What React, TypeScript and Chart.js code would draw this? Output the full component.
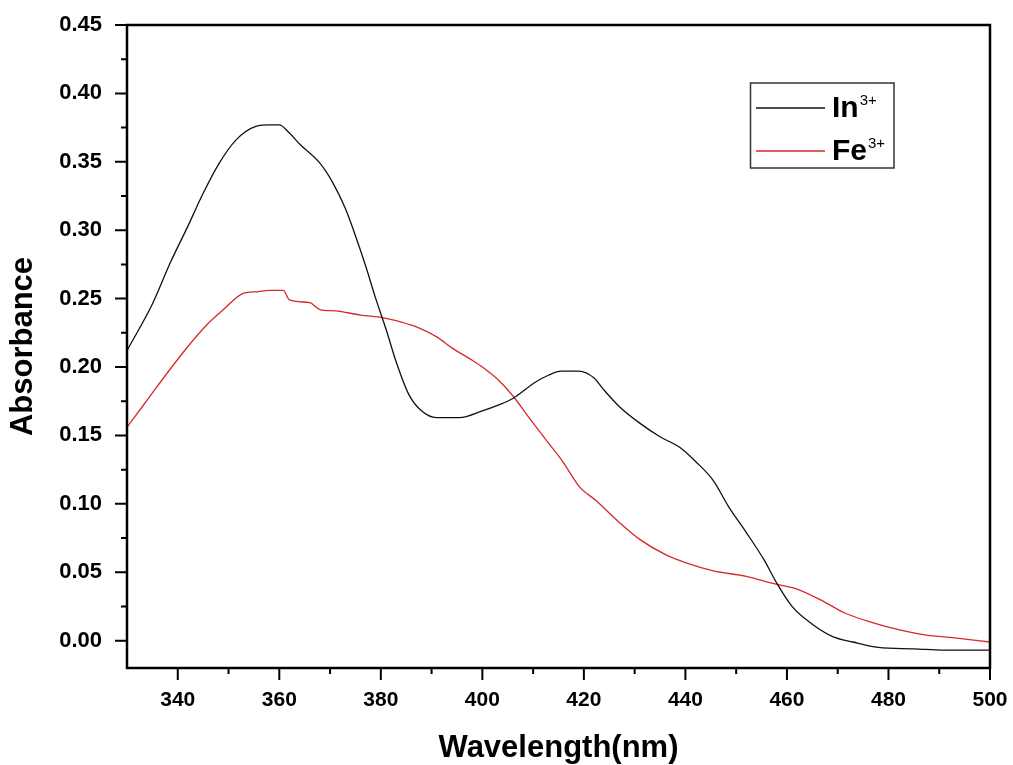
import React, { useEffect, useRef } from 'react';
import { Chart, registerables } from 'chart.js';

Chart.register(...registerables);

// ---- Data ----
const inWavelength = [
  330, 335, 338.5, 342, 345, 348, 351.5, 355.5, 358, 360, 362, 364, 368, 370.5, 373, 375, 377, 379, 381, 383,
  385.5, 388, 391, 395.5, 400, 403, 406, 410.5, 413, 415.5, 419, 422, 424, 427, 431, 435, 439, 442, 445.5, 448.5,
  452, 455.5, 458, 461, 465, 469, 473, 478, 485, 491, 500,
];
const inAbsorbance = [
  0.212, 0.246, 0.276, 0.303, 0.327, 0.348, 0.366, 0.376, 0.377, 0.377, 0.371, 0.363, 0.349, 0.335, 0.316, 0.296,
  0.274, 0.25, 0.228, 0.204, 0.18, 0.168, 0.163, 0.163, 0.168, 0.172, 0.177, 0.189, 0.194, 0.197, 0.197, 0.192,
  0.183, 0.171, 0.159, 0.149, 0.141, 0.131, 0.117, 0.098, 0.079, 0.059, 0.042, 0.025, 0.012, 0.003, -0.001,
  -0.005, -0.006, -0.007, -0.007,
];
const feWavelength = [
  330, 334, 338, 342, 345.5, 349, 353, 355.5, 358, 360.8, 362, 366, 368, 371, 376, 380.5, 383, 386.5, 391, 394,
  398, 400, 403, 406, 409, 412.5, 416, 419, 422.5, 426.5, 431, 436, 440, 445.5, 452, 457, 462.5, 467.5, 471.5,
  477, 482, 487.5, 493, 500,
];
const feAbsorbance = [
  0.156, 0.176, 0.196, 0.215, 0.23, 0.242, 0.254, 0.255, 0.256, 0.256, 0.249, 0.247, 0.242, 0.241, 0.238, 0.236,
  0.234, 0.23, 0.222, 0.214, 0.205, 0.2, 0.191, 0.179, 0.164, 0.147, 0.13, 0.113, 0.102, 0.088, 0.074, 0.063,
  0.057, 0.051, 0.047, 0.042, 0.037, 0.028, 0.02, 0.013, 0.008, 0.004, 0.002, -0.001,
];

const seriesNames = ['In', 'Fe'];
const seriesCharges = ['3+', '3+'];
const seriesColors = ['#111111', '#d42a2a'];

const xMin = 330;
const xMax = 500;
const yMin = -0.02;
const yMax = 0.45;
const xTickValues = [340, 360, 380, 400, 420, 440, 460, 480, 500];
const xMinorValues = [350, 370, 390, 410, 430, 450, 470, 490];
const yTickValues = [0, 0.05, 0.1, 0.15, 0.2, 0.25, 0.3, 0.35, 0.4, 0.45];
const yMinorValues = [0.025, 0.075, 0.125, 0.175, 0.225, 0.275, 0.325, 0.375, 0.425];
const xTitle = 'Wavelength(nm)';
const yTitle = 'Absorbance';

const FONT = '"Liberation Sans", Arial, Helvetica, sans-serif';

const framePlugin = {
  id: 'originFrame',
  afterDraw(chart: any) {
    const { ctx, chartArea } = chart;
    const xs = chart.scales.x;
    const ys = chart.scales.y;
    const { left, right, top, bottom } = chartArea;
    ctx.save();
    ctx.strokeStyle = '#000';
    // ticks (outward)
    ctx.lineWidth = 2;
    ctx.beginPath();
    xTickValues.forEach((v) => {
      const px = xs.getPixelForValue(v);
      ctx.moveTo(px, bottom);
      ctx.lineTo(px, bottom + 12);
    });
    xMinorValues.forEach((v) => {
      const px = xs.getPixelForValue(v);
      ctx.moveTo(px, bottom);
      ctx.lineTo(px, bottom + 6);
    });
    yTickValues.forEach((v) => {
      const py = ys.getPixelForValue(v);
      ctx.moveTo(left, py);
      ctx.lineTo(left - 12, py);
    });
    yMinorValues.forEach((v) => {
      const py = ys.getPixelForValue(v);
      ctx.moveTo(left, py);
      ctx.lineTo(left - 6, py);
    });
    ctx.stroke();
    // frame
    ctx.lineWidth = 2.5;
    ctx.strokeRect(left, top, right - left, bottom - top);

    // legend
    const boxL = 750.5;
    const boxT = 83;
    const boxW = 143.5;
    const boxH = 85;
    ctx.lineWidth = 1.5;
    ctx.strokeStyle = '#333';
    ctx.strokeRect(boxL, boxT, boxW, boxH);
    const rowY = [108, 151];
    const baseY = [117, 160];
    seriesNames.forEach((name, i) => {
      ctx.strokeStyle = seriesColors[i];
      ctx.lineWidth = 1.3;
      ctx.beginPath();
      ctx.moveTo(756, rowY[i]);
      ctx.lineTo(825, rowY[i]);
      ctx.stroke();
      ctx.fillStyle = '#000';
      ctx.textBaseline = 'alphabetic';
      ctx.textAlign = 'left';
      ctx.font = `bold 30px ${FONT}`;
      ctx.fillText(name, 832, baseY[i]);
      const w = ctx.measureText(name).width;
      ctx.font = `15px ${FONT}`;
      ctx.fillText(seriesCharges[i], 832 + w + 1, baseY[i] - 12);
    });
    ctx.restore();
  },
};

export default function App() {
  const canvasRef = useRef<HTMLCanvasElement | null>(null);

  useEffect(() => {
    document.body.style.margin = '0';
    const canvas = canvasRef.current;
    if (!canvas) return;
    const chart = new Chart(canvas, {
      type: 'line',
      data: {
        datasets: [
          {
            label: seriesNames[0] + seriesCharges[0],
            data: inWavelength.map((x, i) => ({ x, y: inAbsorbance[i] })),
            borderColor: seriesColors[0],
            borderWidth: 1.3,
            pointRadius: 0,
            cubicInterpolationMode: 'monotone',
          },
          {
            label: seriesNames[1] + seriesCharges[1],
            data: feWavelength.map((x, i) => ({ x, y: feAbsorbance[i] })),
            borderColor: seriesColors[1],
            borderWidth: 1.3,
            pointRadius: 0,
            cubicInterpolationMode: 'monotone',
          },
        ],
      },
      options: {
        animation: false,
        responsive: false,
        maintainAspectRatio: false,
        layout: { padding: { left: 0, top: 25, right: 23, bottom: 0 } },
        plugins: { legend: { display: false }, tooltip: { enabled: false } },
        scales: {
          x: {
            type: 'linear',
            min: xMin,
            max: xMax,
            afterBuildTicks: (s: any) => {
              s.ticks = xTickValues.map((v) => ({ value: v }));
            },
            afterFit: (s: any) => {
              s.height = 97;
              s.paddingLeft = 0;
              s.paddingRight = 0;
            },
            grid: { display: false, drawTicks: false },
            border: { display: false },
            ticks: {
              autoSkip: false,
              maxRotation: 0,
              padding: 20,
              color: '#000',
              font: { family: FONT, size: 21, weight: 'bold' },
              callback: (v: any) => String(v),
            },
            title: {
              display: true,
              text: xTitle,
              color: '#000',
              font: { family: FONT, size: 31, weight: 'bold', lineHeight: 1.05 },
              padding: { top: 0, bottom: 0 },
            },
          },
          y: {
            type: 'linear',
            min: yMin,
            max: yMax,
            afterBuildTicks: (s: any) => {
              s.ticks = yTickValues.map((v) => ({ value: v }));
            },
            afterFit: (s: any) => {
              s.width = 127;
              s.paddingTop = 0;
              s.paddingBottom = 0;
            },
            grid: { display: false, drawTicks: false },
            border: { display: false },
            ticks: {
              autoSkip: false,
              padding: 25,
              color: '#000',
              font: { family: FONT, size: 22, weight: 'bold' },
              callback: (v: any) => Number(v).toFixed(2),
            },
            title: {
              display: true,
              text: yTitle,
              color: '#000',
              font: { family: FONT, size: 31, weight: 'bold', lineHeight: 1.05 },
              padding: { top: 7, bottom: 0 },
            },
          },
        },
      },
      plugins: [framePlugin],
    } as any);
    return () => chart.destroy();
  }, []);

  return (
    <div style={{ position: 'absolute', left: 0, top: 0, width: 1013, height: 765, background: '#fff' }}>
      <canvas ref={canvasRef} width={1013} height={765} style={{ display: 'block' }} />
    </div>
  );
}
